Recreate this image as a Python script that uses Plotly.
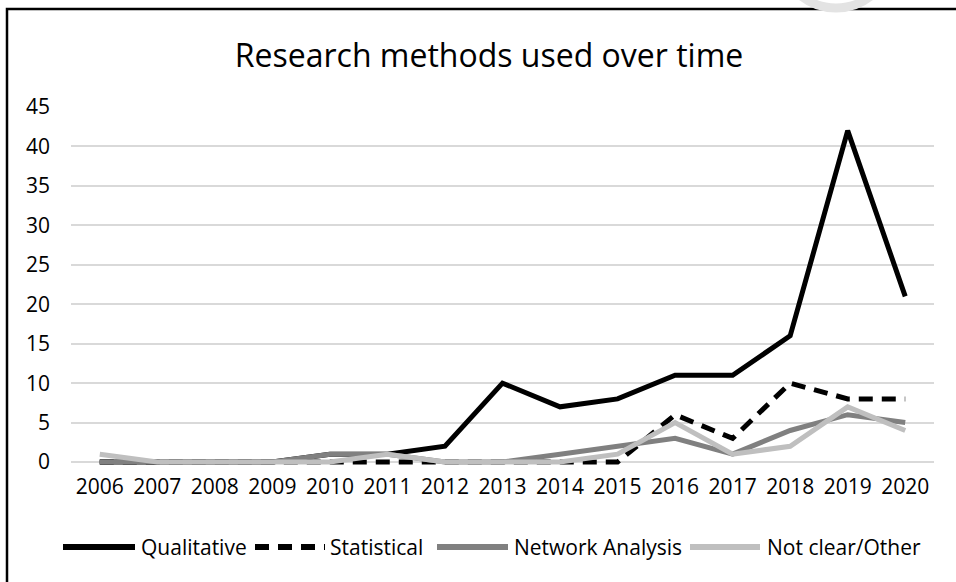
import plotly.graph_objects as go

years = [str(y) for y in range(2006, 2021)]
qualitative = [0, 0, 0, 0, 1, 1, 2, 10, 7, 8, 11, 11, 16, 42, 21]
statistical = [0, 0, 0, 0, 0, 0, 0, 0, 0, 0, 6, 3, 10, 8, 8]
network_analysis = [0, 0, 0, 0, 1, 1, 0, 0, 1, 2, 3, 1, 4, 6, 5]
not_clear_other = [1, 0, 0, 0, 0, 1, 0, 0, 0, 1, 5, 1, 2, 7, 4]
y_ticks = list(range(0, 50, 5))

FONT = "Open Sans"
W = 5
DASH = "14px,9px"

series = [
    ("Qualitative", qualitative, "#000000", "solid"),
    ("Statistical", statistical, "#000000", DASH),
    ("Network Analysis", network_analysis, "#808080", "solid"),
    ("Not clear/Other", not_clear_other, "#bfbfbf", "solid"),
]

# plot-area geometry in pixels (used to place the frame and legend in paper units)
L, R, T, B = 71, 22, 107, 116
PW, PH = 956 - L - R, 582 - T - B


def px(x):
    return (x - L) / PW


def py(y):
    return (582 - B - y) / PH


fig = go.Figure()
for name, vals, color, dash in series:
    fig.add_trace(go.Scatter(
        x=years, y=vals, name=name, mode="lines",
        line=dict(color=color, width=W, dash=dash),
    ))

fig.update_layout(
    width=956, height=582,
    margin=dict(l=L, r=R, t=T, b=B),
    paper_bgcolor="white", plot_bgcolor="white",
    font=dict(family=FONT, size=21, color="#000000"),
    title=dict(text="Research methods used over time", xref="container",
               x=489 / 956, xanchor="center",
               y=1 - 56 / 582, yanchor="middle",
               font=dict(family=FONT, size=32, color="#000000")),
    showlegend=False,
    xaxis=dict(type="category", range=[-0.5, len(years) - 0.5], showgrid=False,
               showline=False, ticks="", ticklabelstandoff=6,
               tickfont=dict(size=21, color="#000000")),
    yaxis=dict(range=[-0.5, 45], tickvals=y_ticks, showgrid=True,
               gridcolor="#d9d9d9", gridwidth=2, zeroline=False, showline=False,
               ticks="", ticklabelstandoff=20, tickfont=dict(size=21, color="#000000")),
)

# chart frame
fig.add_shape(type="rect", xref="paper", yref="paper",
              x0=px(7), x1=px(975), y0=py(600), y1=py(9),
              line=dict(color="#000000", width=2.5), layer="below")

# faint ring in the top margin
fig.add_shape(type="circle", xref="paper", yref="paper",
              x0=px(836 - 56), x1=px(836 + 56), y0=py(-48 + 56), y1=py(-48 - 56),
              line=dict(color="#e3e3e3", width=9), layer="below")

# legend row
legend_y = 547
legend_items = [(63, 135, 139), (255, 325, 328), (437, 508, 512), (690, 760, 765)]
for (name, _, color, dash), (x0, x1, tx) in zip(series, legend_items):
    fig.add_shape(type="line", xref="paper", yref="paper",
                  x0=px(x0), x1=px(x1), y0=py(legend_y), y1=py(legend_y),
                  line=dict(color=color, width=W + 1, dash=dash))
    fig.add_annotation(text=name, xref="paper", yref="paper", x=px(tx), y=py(legend_y),
                       xanchor="left", yanchor="middle", showarrow=False,
                       font=dict(family=FONT, size=21, color="#000000"))

fig.write_html("out.html")
